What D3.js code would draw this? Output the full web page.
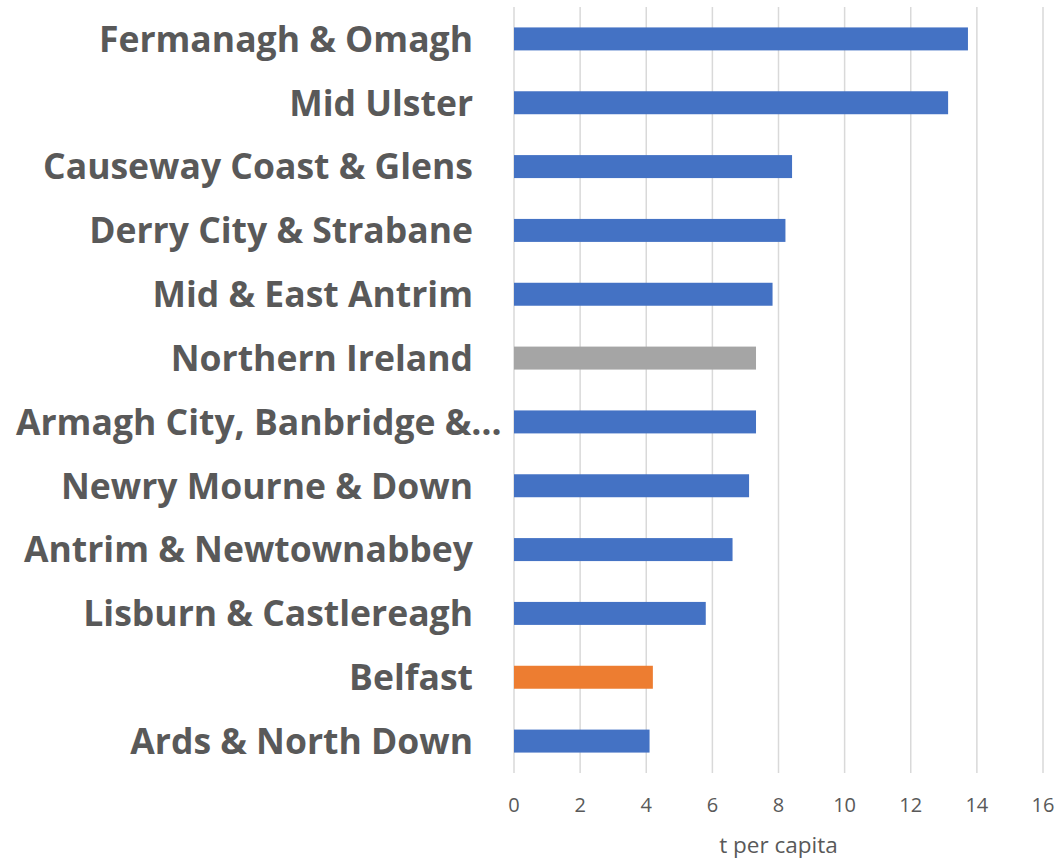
<!DOCTYPE html>
<html>
<head>
<meta charset="utf-8">
<script src="https://cdn.jsdelivr.net/npm/d3@7"></script>
<style>
  body { margin: 0; background: #fff; }
  svg { display: block; }
</style>
</head>
<body>
<div id="chart"></div>
<script>
// values, top to bottom
const regions = [
  "Fermanagh & Omagh", "Mid Ulster", "Causeway Coast & Glens", "Derry City & Strabane",
  "Mid & East Antrim", "Northern Ireland", "Armagh City, Banbridge &…",
  "Newry Mourne & Down", "Antrim & Newtownabbey", "Lisburn & Castlereagh",
  "Belfast", "Ards & North Down"
];
const perCapita = [13.73, 13.13, 8.41, 8.21, 7.82, 7.32, 7.32, 7.11, 6.61, 5.80, 4.20, 4.10];
const barColours = ["#4472C4", "#4472C4", "#4472C4", "#4472C4", "#4472C4", "#A5A5A5",
  "#4472C4", "#4472C4", "#4472C4", "#4472C4", "#ED7D31", "#4472C4"];
const xTicks = [0, 2, 4, 6, 8, 10, 12, 14, 16];

const width = 1061, height = 859;
const margin = {top: 7, right: 18, bottom: 86, left: 514};

const svg = d3.select("#chart").append("svg")
  .attr("width", width)
  .attr("height", height);

const x = d3.scaleLinear()
  .domain([0, 16])
  .range([margin.left, width - margin.right]);

const y = d3.scaleBand()
  .domain(regions)
  .range([margin.top, height - margin.bottom])
  .paddingInner(0.64)
  .paddingOuter(0.32);

// gridlines
svg.append("g")
  .selectAll("line")
  .data(xTicks)
  .join("line")
  .attr("x1", d => x(d))
  .attr("x2", d => x(d))
  .attr("y1", margin.top)
  .attr("y2", height - margin.bottom)
  .attr("stroke", "#d9d9d9")
  .attr("stroke-width", 1.5);

// bars
svg.append("g")
  .selectAll("rect")
  .data(perCapita)
  .join("rect")
  .attr("x", x(0))
  .attr("y", (d, i) => y(regions[i]))
  .attr("width", d => x(d) - x(0))
  .attr("height", y.bandwidth())
  .attr("fill", (d, i) => barColours[i]);

// category labels (the truncated one starts at the left edge)
svg.append("g")
  .selectAll("text")
  .data(regions)
  .join("text")
  .attr("x", d => d.endsWith("…") ? 16 : 473)
  .attr("y", d => y(d) + y.bandwidth() / 2)
  .attr("dy", "0.36em")
  .attr("text-anchor", d => d.endsWith("…") ? "start" : "end")
  .attr("font-family", "'Open Sans', sans-serif")
  .attr("font-weight", "bold")
  .attr("font-size", 35.5)
  .attr("fill", "#595959")
  .text(d => d);

// x axis tick labels
svg.append("g")
  .selectAll("text")
  .data(xTicks)
  .join("text")
  .attr("x", d => x(d))
  .attr("y", 812)
  .attr("text-anchor", "middle")
  .attr("font-family", "'Open Sans', sans-serif")
  .attr("font-size", 20)
  .attr("fill", "#595959")
  .text(d => d);

svg.append("text")
  .attr("x", (x(0) + x(16)) / 2)
  .attr("y", 853)
  .attr("text-anchor", "middle")
  .attr("font-family", "'Open Sans', sans-serif")
  .attr("font-size", 22.5)
  .attr("fill", "#595959")
  .text("t per capita");
</script>
</body>
</html>
